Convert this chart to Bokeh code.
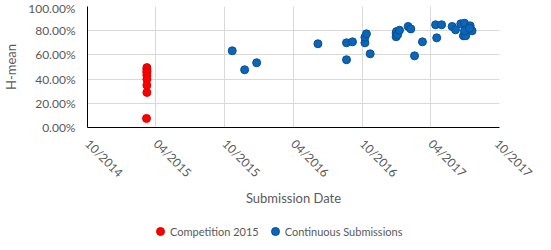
from datetime import datetime
from math import pi
from bokeh.plotting import figure
from bokeh.layouts import column
from bokeh.models import (Range1d, FixedTicker, NumeralTickFormatter, Legend, LegendItem, ColumnDataSource)
from bokeh.embed import file_html
from bokeh.resources import INLINE

# ---- data ----
comp_dates = ["2015-03-08", "2015-03-08", "2015-03-08", "2015-03-08", "2015-03-08",
              "2015-03-08", "2015-03-08", "2015-03-08", "2015-03-07"]
comp_hmean = [0.495, 0.48, 0.465, 0.45, 0.43, 0.40, 0.35, 0.29, 0.075]

cont_dates = ["2015-10-21", "2015-11-23", "2015-12-25", "2016-06-05", "2016-08-20",
              "2016-08-20", "2016-09-05", "2016-10-08", "2016-10-08", "2016-10-12",
              "2016-10-22", "2016-12-30", "2016-12-30", "2016-12-31", "2017-01-03",
              "2017-01-08", "2017-01-31", "2017-02-07", "2017-02-17", "2017-03-10",
              "2017-04-14", "2017-04-17", "2017-04-30", "2017-05-28", "2017-06-06",
              "2017-06-20", "2017-06-30", "2017-06-27", "2017-07-03", "2017-06-30",
              "2017-07-15", "2017-07-20", "2017-07-13"]
cont_hmean = [0.634, 0.477, 0.535, 0.692, 0.70,
              0.56, 0.708, 0.70, 0.746, 0.774,
              0.609, 0.75, 0.78, 0.793, 0.766,
              0.804, 0.835, 0.815, 0.592, 0.708,
              0.849, 0.741, 0.849, 0.835, 0.807,
              0.857, 0.862, 0.758, 0.758, 0.799,
              0.84, 0.799, 0.82]

series_names = ["Competition 2015", "Continuous Submissions"]

x_tick_dates = ["2014-10-01", "2015-04-01", "2015-10-01", "2016-04-01",
                "2016-10-01", "2017-04-01", "2017-10-01"]
x_tick_labels = ["10/2014", "04/2015", "10/2015", "04/2016", "10/2016", "04/2017", "10/2017"]
y_ticks = [0.0, 0.2, 0.4, 0.6, 0.8, 1.0]


def ms(s):
    return datetime.strptime(s, "%Y-%m-%d").timestamp() * 1000.0


FONT = "Lato"
GRAY = "#595959"
RED_FILL, RED_LINE = "#FF0000", "#E00000"
BLUE_FILL, BLUE_LINE = "#0A66B9", "#0A4F91"

x_ticks = [ms(d) for d in x_tick_dates]

p = figure(width=535, height=210, output_backend="svg", toolbar_location=None,
           x_axis_type="datetime",
           x_range=Range1d(x_ticks[0], x_ticks[-1]), y_range=Range1d(0, 1),
           min_border_left=82, min_border_right=36, min_border_top=6, min_border_bottom=83)
p.outline_line_color = None
p.background_fill_color = "white"
p.border_fill_color = "white"

xa = p.xaxis[0]
xa.ticker = FixedTicker(ticks=x_ticks)
xa.major_label_overrides = {t: l for t, l in zip(x_ticks, x_tick_labels)}
xa.major_label_orientation = -pi / 4
xa.axis_line_color = "black"
xa.major_tick_out = 0
xa.major_tick_in = 0
xa.minor_tick_out = 0
xa.minor_tick_in = 0
xa.major_label_standoff = 14
xa.major_label_text_font = FONT
xa.major_label_text_font_size = "12px"
xa.major_label_text_color = GRAY
xa.axis_label = "Submission Date"
xa.axis_label_text_font = FONT
xa.axis_label_text_font_size = "13px"
xa.axis_label_text_font_style = "normal"
xa.axis_label_text_color = GRAY
xa.axis_label_standoff = 2

ya = p.yaxis[0]
ya.ticker = FixedTicker(ticks=y_ticks)
ya.formatter = NumeralTickFormatter(format="0.00%")
ya.axis_line_color = "black"
ya.major_tick_out = 0
ya.major_tick_in = 0
ya.minor_tick_out = 0
ya.minor_tick_in = 0
ya.major_label_standoff = 12
ya.major_label_text_font = FONT
ya.major_label_text_font_size = "12px"
ya.major_label_text_color = GRAY
ya.axis_label = "H-mean"
ya.axis_label_text_font = FONT
ya.axis_label_text_font_size = "13px"
ya.axis_label_text_font_style = "normal"
ya.axis_label_text_color = GRAY
ya.axis_label_standoff = 6

p.xgrid.grid_line_color = "#D9D9D9"
p.ygrid.grid_line_color = "#D9D9D9"
p.xgrid.ticker = FixedTicker(ticks=x_ticks)
p.ygrid.ticker = FixedTicker(ticks=y_ticks)

src_c = ColumnDataSource(dict(x=[ms(d) for d in comp_dates], y=comp_hmean))
src_b = ColumnDataSource(dict(x=[ms(d) for d in cont_dates], y=cont_hmean))

p.scatter("x", "y", source=src_c, size=8, fill_color=RED_FILL, line_color=RED_LINE)
p.scatter("x", "y", source=src_b, size=8, fill_color=BLUE_FILL, line_color=BLUE_LINE)

# ---- legend strip (proxies share the data; its own ranges keep them out of view) ----
leg = figure(width=535, height=32, output_backend="svg", toolbar_location=None,
             x_range=Range1d(0, 1), y_range=Range1d(5, 6),
             min_border_left=0, min_border_right=0, min_border_top=0, min_border_bottom=0)
leg.axis.visible = False
leg.grid.visible = False
leg.outline_line_color = None
leg.border_fill_color = "white"
lr1 = leg.scatter("x", "y", source=src_c, size=8, fill_color=RED_FILL, line_color=RED_LINE)
lr2 = leg.scatter("x", "y", source=src_b, size=8, fill_color=BLUE_FILL, line_color=BLUE_LINE)

legend = Legend(items=[LegendItem(label=series_names[0], renderers=[lr1]),
                       LegendItem(label=series_names[1], renderers=[lr2])],
                location=(63, 1), orientation="horizontal",
                glyph_width=20, glyph_height=20, label_standoff=-6, spacing=6,
                padding=0, margin=0, border_line_color=None, background_fill_alpha=0,
                label_text_font=FONT, label_text_font_size="11px", label_text_color=GRAY)
leg.add_layout(legend, "center")

layout = column(p, leg, spacing=0)
open("out.html", "w").write(file_html(layout, INLINE))
